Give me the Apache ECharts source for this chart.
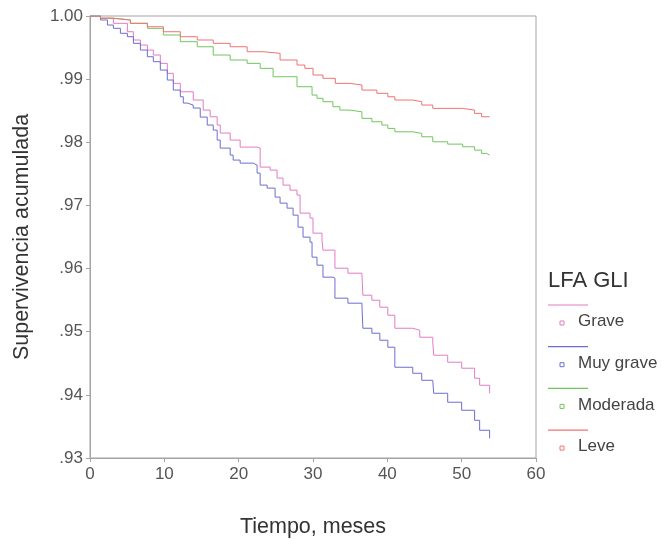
<!DOCTYPE html>
<html>
<head>
<meta charset="utf-8">
<script src="https://cdn.jsdelivr.net/npm/echarts@6/dist/echarts.min.js"></script>
<style>
  html, body { margin: 0; padding: 0; background: #fff; }
  #chart { width: 661px; height: 539px; }
</style>
</head>
<body>
<div id="chart"></div>
<script>
// Kaplan-Meier cumulative survival by LFA GLI severity group
const seriesNames = ['Grave', 'Muy grave', 'Moderada', 'Leve'];
const seriesColors = ['#e27cc2', '#6d6dd2', '#70c65e', '#f27272'];
const legendTitle = 'LFA GLI';

const yTicks = [0.93, 0.94, 0.95, 0.96, 0.97, 0.98, 0.99, 1.00];
const xTicks = [0, 10, 20, 30, 40, 50, 60];

// Event times (months) and survival after each step
const graveT = [0, 1.41, 3.15, 5.03, 5.84, 6.78, 7.72, 8.52, 9.46, 10.40, 11.21, 12.15, 13.89, 15.23, 16.17, 17.11, 17.52, 18.86, 20.20, 22.48, 22.89, 24.23, 25.17, 25.97, 26.91, 27.85, 28.26, 29.60, 30.00, 31.21, 31.34, 32.95, 34.70, 36.58, 36.71, 37.92, 38.99, 40.07, 41.01, 43.42, 44.36, 46.11, 46.24, 48.12, 50.00, 51.74, 52.42, 53.76];
const graveS = [1.0, 0.99964, 0.99884, 0.99751, 0.99620, 0.99540, 0.99461, 0.99382, 0.99250, 0.99092, 0.98933, 0.98800, 0.98669, 0.98510, 0.98404, 0.98273, 0.98146, 0.98035, 0.97924, 0.97908, 0.97607, 0.97559, 0.97433, 0.97322, 0.97242, 0.97163, 0.96878, 0.96799, 0.96561, 0.96450, 0.96292, 0.96006, 0.95927, 0.95895, 0.95578, 0.95499, 0.95388, 0.95261, 0.95055, 0.95024, 0.94913, 0.94834, 0.94628, 0.94517, 0.94422, 0.94263, 0.94152, 0.94025];

const muyGraveT = [0, 1.41, 2.35, 3.15, 4.09, 5.03, 5.84, 6.78, 7.72, 8.52, 9.46, 10.40, 11.21, 12.15, 12.55, 13.09, 13.89, 14.83, 15.77, 16.58, 17.11, 17.52, 18.86, 19.26, 20.20, 21.95, 22.48, 22.89, 23.83, 24.90, 25.57, 26.51, 27.32, 27.99, 28.66, 29.60, 29.87, 30.54, 31.34, 32.68, 32.95, 34.70, 36.58, 36.71, 37.92, 38.99, 40.07, 41.01, 43.42, 44.63, 46.11, 46.24, 48.12, 50.00, 51.74, 52.42, 53.76];
const muyGraveS = [1.0, 0.99937, 0.99857, 0.99805, 0.99726, 0.99672, 0.99567, 0.99461, 0.99355, 0.99276, 0.99144, 0.98986, 0.98827, 0.98721, 0.98621, 0.98590, 0.98542, 0.98399, 0.98273, 0.98193, 0.98035, 0.97908, 0.97797, 0.97718, 0.97670, 0.97639, 0.97512, 0.97322, 0.97274, 0.97132, 0.97036, 0.96957, 0.96846, 0.96656, 0.96498, 0.96418, 0.96181, 0.96054, 0.95864, 0.95848, 0.95531, 0.95452, 0.95420, 0.95055, 0.94976, 0.94865, 0.94754, 0.94437, 0.94342, 0.94231, 0.94200, 0.94025, 0.93883, 0.93756, 0.93597, 0.93439, 0.93312];

const moderadaT = [0, 1.41, 3.15, 5.44, 7.72, 9.87, 12.15, 14.43, 16.58, 18.86, 21.14, 22.89, 24.63, 27.85, 29.87, 30.54, 31.34, 32.68, 33.62, 34.97, 36.58, 37.92, 39.26, 40.07, 41.01, 43.42, 44.63, 46.11, 48.12, 50.13, 51.74, 52.68, 53.36, 53.76];
const moderadaS = [1.0, 0.99964, 0.99937, 0.99884, 0.99805, 0.99699, 0.99593, 0.99513, 0.99382, 0.99303, 0.99250, 0.99171, 0.99038, 0.98880, 0.98748, 0.98696, 0.98642, 0.98563, 0.98510, 0.98483, 0.98379, 0.98325, 0.98273, 0.98220, 0.98166, 0.98141, 0.98087, 0.98008, 0.97971, 0.97929, 0.97876, 0.97824, 0.97797, 0.97797];

const leveT = [0, 1.41, 3.15, 5.44, 7.72, 9.87, 12.15, 14.43, 16.58, 18.86, 21.14, 23.29, 25.57, 27.85, 28.90, 30.00, 31.34, 33.00, 34.97, 36.58, 38.59, 40.07, 41.01, 43.42, 44.63, 46.11, 50.13, 51.74, 52.68, 53.76];
const leveS = [1.0, 0.99964, 0.99937, 0.99884, 0.99830, 0.99751, 0.99672, 0.99620, 0.99567, 0.99513, 0.99434, 0.99409, 0.99303, 0.99223, 0.99171, 0.99065, 0.99013, 0.98933, 0.98907, 0.98827, 0.98775, 0.98721, 0.98669, 0.98642, 0.98590, 0.98537, 0.98510, 0.98458, 0.98404, 0.98404];

const curves = [[graveT, graveS], [muyGraveT, muyGraveS], [moderadaT, moderadaS], [leveT, leveS]];

const FONT = '"Liberation Sans", Arial, sans-serif';
const AXIS_GRAY = '#a3a3a3';
const GRID = { left: 90, top: 16, width: 446, height: 442 };

const chart = echarts.init(document.getElementById('chart'), null, { renderer: 'canvas' });

const series = curves.map(([t, s], i) => ({
  name: seriesNames[i],
  type: 'line',
  step: 'end',
  symbol: 'none',
  animation: false,
  lineStyle: { color: seriesColors[i], width: 1 },
  itemStyle: { color: seriesColors[i] },
  data: t.map((x, k) => [x, s[k]])
}));

// Legend block: title, then a line sample and a small marker above each label
const LEG_X = 548;
const legendItems = [{
  type: 'text', left: LEG_X, top: 270,
  style: { text: legendTitle, font: '22px ' + FONT, fill: '#333' }
}];
seriesNames.forEach((name, i) => {
  const y0 = 305 + i * 41.7;
  legendItems.push({
    type: 'line',
    shape: { x1: LEG_X, y1: y0, x2: LEG_X + 40, y2: y0 },
    style: { stroke: seriesColors[i], lineWidth: 1.2 }
  });
  legendItems.push({
    type: 'rect',
    shape: { x: LEG_X + 12, y: y0 + 16, width: 4, height: 4 },
    style: { fill: '#fff', stroke: seriesColors[i], lineWidth: 1 }
  });
  legendItems.push({
    type: 'text', left: LEG_X + 30, top: y0 + 8,
    style: { text: name, font: '17px ' + FONT, fill: '#444' }
  });
});

const tickFmt = v => {
  const r = Math.round(v * 100) / 100;
  return r >= 1 ? '1.00' : r.toFixed(2).replace(/^0/, '');
};

chart.setOption({
  backgroundColor: '#fff',
  animation: false,
  grid: Object.assign({
    show: true, borderColor: AXIS_GRAY, borderWidth: 1, backgroundColor: 'transparent',
    containLabel: false, outerBoundsMode: 'none'
  }, GRID),
  xAxis: {
    type: 'value',
    min: xTicks[0], max: xTicks[xTicks.length - 1], interval: 10,
    name: 'Tiempo, meses',
    nameLocation: 'middle', nameGap: 58,
    nameTextStyle: { fontFamily: FONT, fontSize: 21.5, color: '#333' },
    axisLine: { show: true, lineStyle: { color: AXIS_GRAY } },
    axisTick: { show: true, length: 4, lineStyle: { color: AXIS_GRAY } },
    axisLabel: { margin: 8, fontFamily: FONT, fontSize: 17, color: '#555' },
    splitLine: { show: false }
  },
  yAxis: {
    type: 'value',
    min: yTicks[0], max: yTicks[yTicks.length - 1], interval: 0.01,
    name: 'Supervivencia acumulada',
    nameLocation: 'middle', nameGap: 57,
    nameTextStyle: { fontFamily: FONT, fontSize: 21.5, color: '#333' },
    axisLine: { show: true, lineStyle: { color: AXIS_GRAY } },
    axisTick: { show: true, length: 4, lineStyle: { color: AXIS_GRAY } },
    axisLabel: { margin: 7, fontFamily: FONT, fontSize: 17, color: '#555', formatter: tickFmt },
    splitLine: { show: false }
  },
  series: series,
  graphic: legendItems
});
</script>
</body>
</html>
